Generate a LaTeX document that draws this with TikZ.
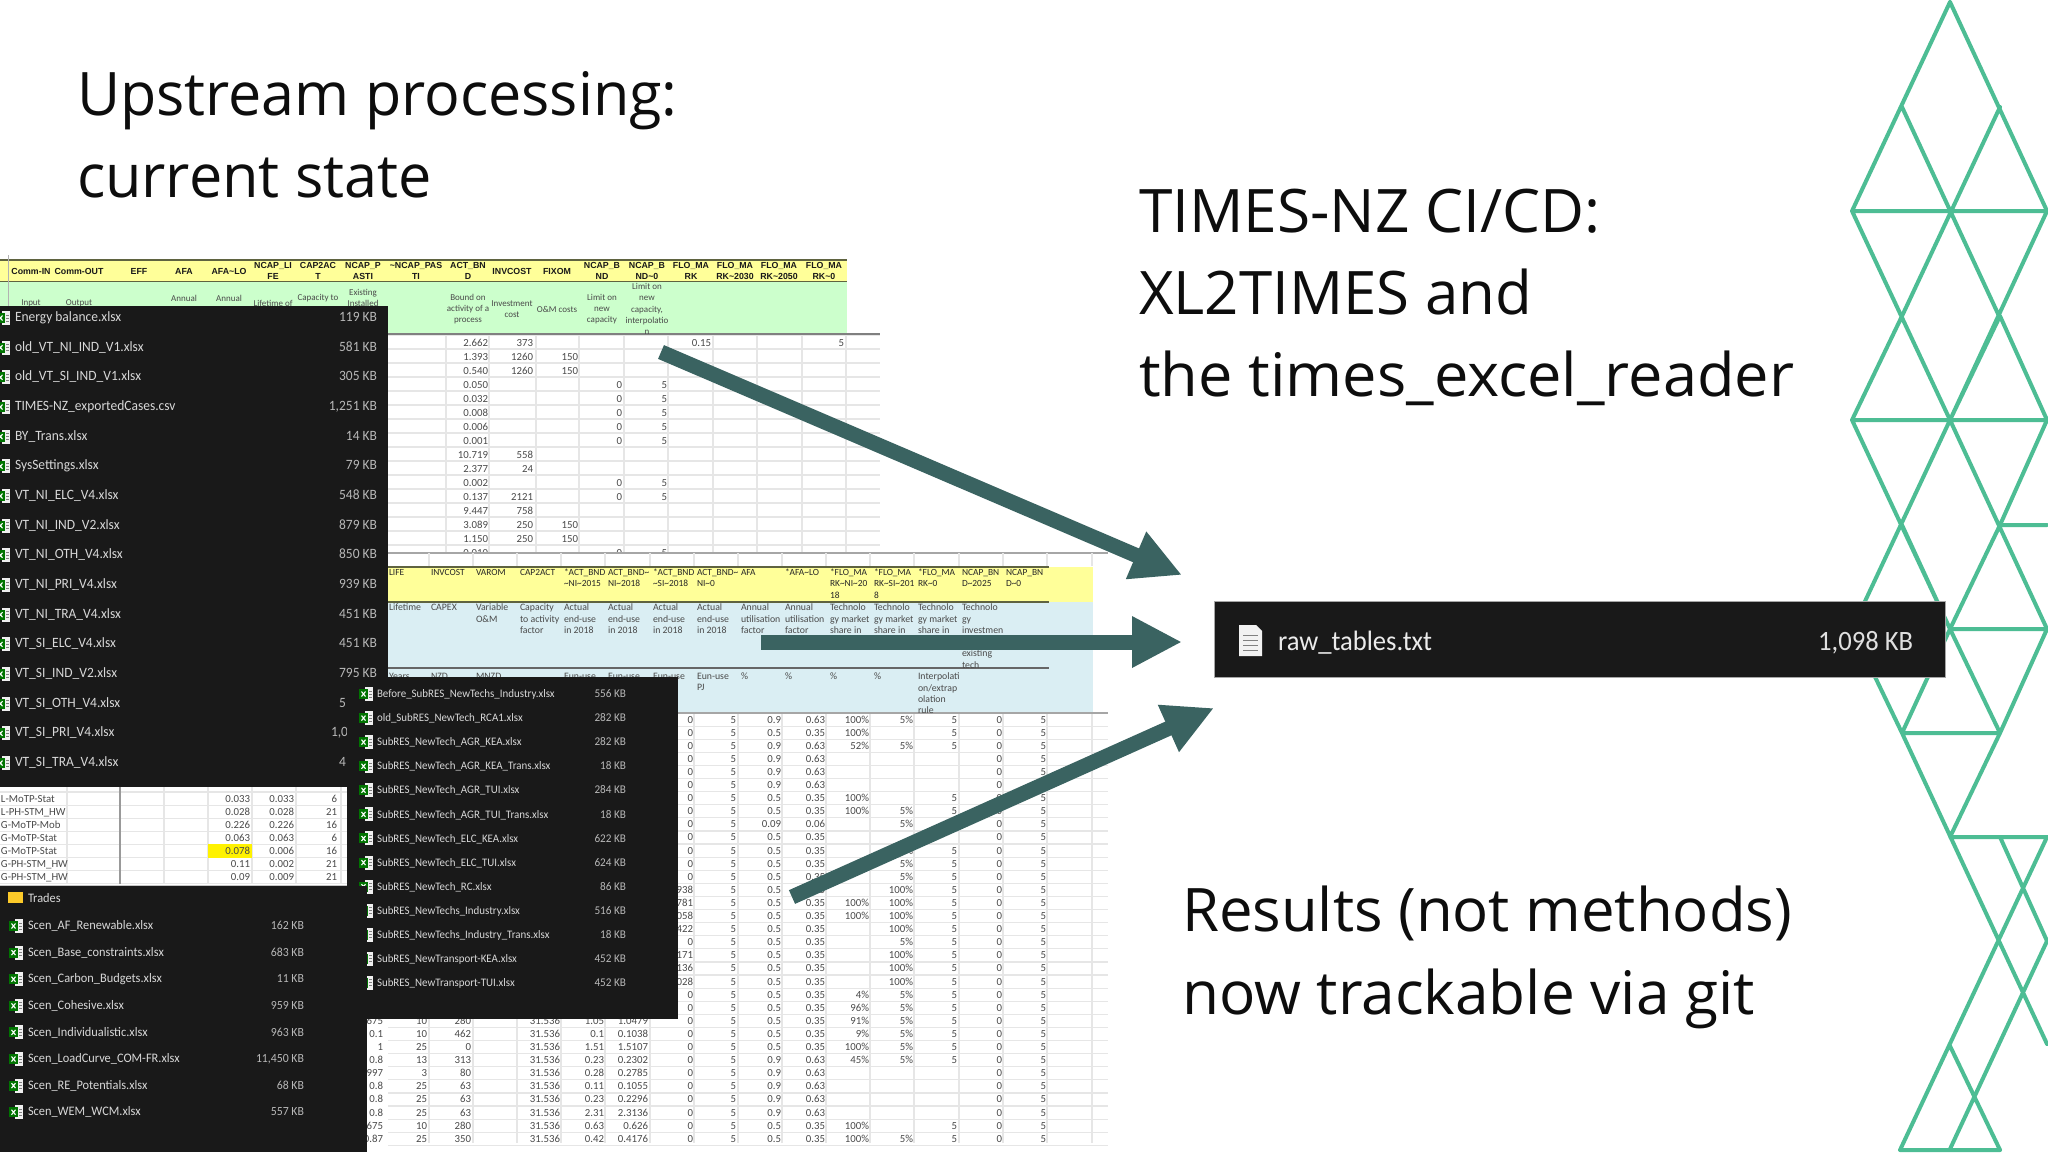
\documentclass[tikz,border=0pt]{standalone}
\usepackage{fontspec}
\usepackage{graphicx}
\usetikzlibrary{arrows.meta}
\setmainfont{Open Sans}
\newfontfamily\panelf[FakeStretch=0.95]{Carlito}
\newfontfamily\cellf{Carlito}
\newfontfamily\headf{Liberation Sans}
\definecolor{lat}{HTML}{4DBD94}
\definecolor{arr}{HTML}{3A6361}
\definecolor{panel}{HTML}{191919}
\definecolor{ptext}{HTML}{D8D8D8}
\definecolor{yel1}{HTML}{FFFF99}
\definecolor{grn1}{HTML}{CCFFCC}
\definecolor{blu1}{HTML}{DAEEF3}
\definecolor{grid}{HTML}{E6E6E6}
\definecolor{edge}{HTML}{5F6340}
\definecolor{cellc}{HTML}{4A4A4A}
\newcount\nodeno
\newcommand{\T}[4][]{\global\advance\nodeno by 1 \node[#1] (n\the\nodeno) at (#2,#3) {#4};}
\tikzset{
 base/.style={inner sep=0pt,outer sep=0pt},
 title/.style={base,anchor=base west,font=\fontsize{30}{36}\selectfont,text=black!95},
 pname/.style={base,anchor=west,text=ptext,text height=5pt,text depth=1.4pt},
 psize/.style={base,anchor=east,text=ptext!85!black,text height=5pt,text depth=1.4pt},
 data/.style={base,anchor=east,text=cellc,font=\cellf\fontsize{5.4}{6}\selectfont,text height=3.6pt,text depth=0.6pt},
 dataL/.style={base,anchor=west,text=cellc,font=\cellf\fontsize{5.4}{6}\selectfont,text height=3.6pt,text depth=0.6pt},
 hd/.style={base,anchor=center,align=center,text=black!90,font=\headf\bfseries\fontsize{4.4}{5.2}\selectfont},
 sub/.style={base,anchor=center,align=center,text=cellc,font=\cellf\fontsize{4.5}{5.6}\selectfont},
 hl/.style={base,anchor=north west,align=left,text=black!85,font=\cellf\fontsize{4.7}{5.65}\selectfont},
 bl/.style={base,anchor=north west,align=left,text=cellc,font=\cellf\fontsize{4.9}{5.65}\selectfont},
 arrowline/.style={draw=arr,line width=7.5pt,-{Triangle[length=25pt,width=24pt]}},
}
\newcommand{\xl}[2]{%
 \fill[white!88!gray] (#1-1,#2-7) rectangle (#1+7,#2+7);
 \foreach \q in {-3,0,3}{\draw[gray,line width=.5pt] (#1+3,#2+\q) -- (#1+6,#2+\q);}
 \fill[green!45!black] (#1-7,#2-5) rectangle (#1+2,#2+5);
 \draw[white,line width=.55pt] (#1-4.5,#2-2.5) -- (#1-.5,#2+2.5) (#1-.5,#2-2.5) -- (#1-4.5,#2+2.5);}
\newcommand{\colB}[2]{\foreach \r/\v in {#2}{\pgfmathsetmacro{\yy}{720+13.1*(\r-1)}\T[data]{#1}{\yy}{\v}}}
\newcommand{\colA}[2]{\foreach \r/\v in {#2}{\pgfmathsetmacro{\yy}{343+14*(\r-1)}\T[data]{#1}{\yy}{\v}}}
\begin{document}
\begin{tikzpicture}[x=0.5pt,y=-0.5pt]
\useasboundingbox (0,0) rectangle (2048,1152);
\fill[white] (0,0) rectangle (2048,1152);
% ---------- lattice
\begin{scope}
\clip (0,0) rectangle (2048,1152);
\draw[lat,line width=2pt,line join=round,line cap=round]
 (1950,2)--(1852,211)--(1950,420)  (1950,2)--(2047,211)--(1950,420)
 (1902,107)--(1999,316) (2000,107)--(1902,316)
 (1852,211)--(2047,211)
 (1902,316)--(1852,420)--(1950,629)  (2000,316)--(1950,420)
 (2000,316)--(2047,420)
 (1852,420)--(2047,420)
 (1950,420)--(2047,629)--(2000,733)  (1950,420)--(1852,629)--(1902,733)
 (1902,525)--(1950,629)--(1902,733)
 (2000,525)--(1950,629)--(2000,733)
 (2047,420)--(2000,525)--(2047,525)
 (1950,629)--(2047,629)
 (1902,733)--(2000,733)
 (1902,733)--(2047,1044)
 (2000,733)--(1950,837)--(2047,837)
 (2000,837)--(2047,941)--(1950,1149)
 (2047,837)--(1900,1150)
 (1950,1046)--(2000,1150)
 (1900,1150)--(2000,1150);
\end{scope}
% ---------- sheet 1
\begin{scope}
\clip (0,255) rectangle (885,553);
\foreach \k in {0,...,16}{\draw[grid,line width=.6pt] (388,{335+14*\k}) -- (880,{335+14*\k});}
\foreach \x in {446,489,536,579,624,668,713,757,802,846}{\draw[grid,line width=.6pt] (\x,335) -- (\x,553);}
\fill[yel1] (0,260) rectangle (847,281);
\fill[grn1] (0,282) rectangle (847,334);
\draw[edge,line width=.6pt] (0,260)--(847,260) (0,281.5)--(847,281.5);
\draw[gray,line width=.7pt] (0,334)--(880,334);
\draw[gray!60,line width=.5pt] (8,255)--(8,334);
\foreach \x/\s in {31/Comm-IN,79/Comm-OUT,139/EFF,184/AFA,229/AFA\textasciitilde LO,273/{NCAP\_LI\\FE},318/{CAP2AC\\T},363/{NCAP\_P\\ASTI},416/{\textasciitilde NCAP\_PAS\\TI},468/{ACT\_BN\\D},512/{INVCOST},557/{FIXOM},602/{NCAP\_B\\ND},647/{NCAP\_B\\ND\textasciitilde 0},691/{FLO\_MA\\RK},735/{FLO\_MA\\RK\textasciitilde 2030},779/{FLO\_MA\\RK\textasciitilde 2050},824/{FLO\_MA\\RK\textasciitilde 0}}
 {\T[hd]{\x}{271}{\s}}
\T[sub]{31}{303}{Input}
\T[sub]{79}{303}{Output}
\T[sub]{184}{298}{Annual}
\T[sub]{229}{298}{Annual}
\T[sub]{273}{303}{Lifetime of}
\T[sub]{318}{298}{Capacity to}
\T[sub]{363}{298}{Existing\\Installed}
\T[sub]{468}{309}{Bound on\\activity of a\\process}
\T[sub]{512}{309}{Investment\\cost}
\T[sub]{557}{309}{O\&M costs}
\T[sub]{602}{309}{Limit on\\new\\capacity}
\T[sub]{647}{309}{Limit on\\new\\capacity,\\interpolatio\\n}
\colA{488}{1/2.662,2/1.393,3/0.540,4/0.050,5/0.032,6/0.008,7/0.006,8/0.001,9/10.719,10/2.377,11/0.002,12/0.137,13/9.447,14/3.089,15/1.150,16/0.010}
\colA{533}{1/373,2/1260,3/1260,9/558,10/24,12/2121,13/758,14/250,15/250}
\colA{578}{2/150,3/150,14/150,15/150}
\colA{622}{4/0,5/0,6/0,7/0,8/0,11/0,12/0,16/0}
\colA{667}{4/5,5/5,6/5,7/5,8/5,11/5,12/5,16/5}
\colA{711}{1/0.15}
\colA{844}{1/5}
\end{scope}
\draw[gray!70,line width=.6pt] (388,553)--(1108,553);
\foreach \x in {429,473,517,561,605,650,694,738,782,826,870,914,959,1003,1047,1092}{\draw[grid,line width=.6pt] (\x,553) -- (\x,566);}
% ---------- sheet 2
\foreach \k in {0,...,33}{\draw[grid,line width=.6pt] (388,{713+13.1*\k}) -- (1108,{713+13.1*\k});}
\foreach \x in {429,473,517,561,605,650,694,738,782,826,870,914,959,1003,1047,1092}{\draw[grid,line width=.6pt] (\x,713) -- (\x,1143);}
\fill[yel1] (388,567) rectangle (1093,602);
\fill[blu1] (388,602) rectangle (1093,713);
\draw[edge,line width=.7pt] (388,567)--(1049,567) (388,602)--(1049,602);
\draw[gray!80!black,line width=.8pt] (388,668)--(1049,668);
\draw[gray!70,line width=.6pt] (388,713)--(1108,713);
\foreach \x/\s in {389/LIFE,431/INVCOST,476/VAROM,520/CAP2ACT,564/{*ACT\_BND\\\textasciitilde NI\textasciitilde 2015},608/{ACT\_BND\textasciitilde\\NI\textasciitilde 2018},653/{*ACT\_BND\\\textasciitilde SI\textasciitilde 2018},697/{ACT\_BND\textasciitilde\\NI\textasciitilde 0},741/AFA,785/{*AFA\textasciitilde LO},830/{*FLO\_MA\\RK\textasciitilde NI\textasciitilde 20\\18},874/{*FLO\_MA\\RK\textasciitilde SI\textasciitilde 201\\8},918/{*FLO\_MA\\RK\textasciitilde 0},962/{NCAP\_BN\\D\textasciitilde 2025},1006/{NCAP\_BN\\D\textasciitilde 0}}
 {\T[hl]{\x}{569}{\s}}
\foreach \x/\s in {389/Lifetime,431/CAPEX,476/{Variable\\O\&M},520/{Capacity\\to activity\\factor},564/{Actual\\end-use\\in 2018},608/{Actual\\end-use\\in 2018},653/{Actual\\end-use\\in 2018},697/{Actual\\end-use\\in 2018},741/{Annual\\utilisation\\factor},785/{Annual\\utilisation\\factor},830/{Technolo\\gy market\\share in},874/{Technolo\\gy market\\share in},918/{Technolo\\gy market\\share in},962/{Technolo\\gy\\investmen}}
 {\T[bl]{\x}{604}{\s}}
\T[bl]{962}{650}{existing\\tech}
\foreach \x/\s in {389/Years,431/NZD/kW,476/MNZD/PJ,564/{Eun-use\\PJ},608/{Eun-use\\PJ},653/{Eun-use\\PJ},697/{Eun-use\\PJ},741/\%,785/\%,830/\%,874/\%,918/{Interpolati\\on/extrap\\olation\\rule}}
 {\T[bl]{\x}{673}{\s}}
\colB{693}{1/0,2/0,3/0,4/0,5/0,6/0,7/0,8/0,9/0,10/0,11/0,12/0,13/0,14/938,15/781,16/058,17/422,18/0,19/171,20/136,21/028,22/0,23/0,24/0,25/0,26/0,27/0,28/0,29/0,30/0,31/0,32/0,33/0}
\foreach \r in {1,...,33}{\pgfmathsetmacro{\yy}{720+13.1*(\r-1)}\T[data]{736}{\yy}{5}\T[data]{1002}{\yy}{0}\T[data]{1046}{\yy}{5}}
\colB{781}{1/0.9,2/0.5,3/0.9,4/0.9,5/0.9,6/0.9,7/0.5,8/0.5,9/0.09,10/0.5,11/0.5,12/0.5,13/0.5,14/0.5,15/0.5,16/0.5,17/0.5,18/0.5,19/0.5,20/0.5,21/0.5,22/0.5,23/0.5,24/0.5,25/0.5,26/0.5,27/0.9,28/0.9,29/0.9,30/0.9,31/0.9,32/0.5,33/0.5}
\colB{825}{1/0.63,2/0.35,3/0.63,4/0.63,5/0.63,6/0.63,7/0.35,8/0.35,9/0.06,10/0.35,11/0.35,12/0.35,13/0.35,14/0.35,15/0.35,16/0.35,17/0.35,18/0.35,19/0.35,20/0.35,21/0.35,22/0.35,23/0.35,24/0.35,25/0.35,26/0.35,27/0.63,28/0.63,29/0.63,30/0.63,31/0.63,32/0.35,33/0.35}
\colB{869}{1/100\%,2/100\%,3/52\%,7/100\%,8/100\%,15/100\%,16/100\%,22/4\%,23/96\%,24/91\%,25/9\%,26/100\%,27/45\%,32/100\%,33/100\%}
\colB{913}{1/5\%,3/5\%,8/5\%,9/5\%,11/5\%,12/5\%,13/5\%,14/100\%,15/100\%,16/100\%,17/100\%,18/5\%,19/100\%,20/100\%,21/100\%,22/5\%,23/5\%,24/5\%,25/5\%,26/5\%,27/5\%,33/5\%}
\colB{957}{1/5,2/5,3/5,7/5,8/5,11/5,12/5,13/5,14/5,15/5,16/5,17/5,18/5,19/5,20/5,21/5,22/5,23/5,24/5,25/5,26/5,27/5,32/5,33/5}
\colB{383}{24/675,25/0.1,26/1,27/0.8,28/997,29/0.8,30/0.8,31/0.8,32/675,33/0.87}
\colB{427}{24/10,25/10,26/25,27/13,28/3,29/25,30/25,31/25,32/10,33/25}
\colB{471}{24/280,25/462,26/0,27/313,28/80,29/63,30/63,31/63,32/280,33/350}
\foreach \r in {24,...,33}{\pgfmathsetmacro{\yy}{720+13.1*(\r-1)}\T[data]{560}{\yy}{31.536}}
\colB{604}{24/1.05,25/0.1,26/1.51,27/0.23,28/0.28,29/0.11,30/0.23,31/2.31,32/0.63,33/0.42}
\colB{648}{24/1.0479,25/0.1038,26/1.5107,27/0.2302,28/0.2785,29/0.1055,30/0.2296,31/2.3136,32/0.626,33/0.4176}
% ---------- sheet 3 (strip under the first panel)
\fill[white] (0,787) rectangle (347,886);
\foreach \k in {0,...,7}{\draw[grid,line width=.6pt] (0,{792+13.1*\k}) -- (347,{792+13.1*\k});}
\foreach \x in {67,164,208,252,296,341}{\draw[grid,line width=.6pt] (\x,787) -- (\x,884);}
\draw[gray!80,line width=.6pt] (120,787) -- (120,884);
\fill[yellow] (208,844) rectangle (252,858);
\foreach \n/\v/\a/\b/\c in {0/{L-MoTP-Stat}/0.033/0.033/6,1/{L-PH-STM\_HW}/0.028/0.028/21,2/{G-MoTP-Mob}/0.226/0.226/16,3/{G-MoTP-Stat}/0.063/0.063/6,4/{G-MoTP-Stat}/0.078/0.006/16,5/{G-PH-STM\_HW}/0.11/0.002/21,6/{G-PH-STM\_HW}/0.09/0.009/21}{
 \pgfmathsetmacro{\yy}{799+13*\n}
 \T[dataL]{1}{\yy}{\v}\T[data]{250}{\yy}{\a}\T[data]{294}{\yy}{\b}\T[data]{337}{\yy}{\c}}
\draw[gray!45,line width=1pt] (0,886) -- (367,886);
% ---------- panel 1
\fill[panel] (0,306) rectangle (388,787);
\foreach \n/\a/\b in {0/{Energy balance.xlsx}/119 KB,1/{old\_VT\_NI\_IND\_V1.xlsx}/581 KB,2/{old\_VT\_SI\_IND\_V1.xlsx}/305 KB,3/{TIMES-NZ\_exportedCases.csv}/{1,251 KB},4/{BY\_Trans.xlsx}/14 KB,5/{SysSettings.xlsx}/79 KB,6/{VT\_NI\_ELC\_V4.xlsx}/548 KB,7/{VT\_NI\_IND\_V2.xlsx}/879 KB,8/{VT\_NI\_OTH\_V4.xlsx}/850 KB,9/{VT\_NI\_PRI\_V4.xlsx}/939 KB,10/{VT\_NI\_TRA\_V4.xlsx}/451 KB,11/{VT\_SI\_ELC\_V4.xlsx}/451 KB,12/{VT\_SI\_IND\_V2.xlsx}/795 KB}{
 \pgfmathsetmacro{\yy}{318+29.67*\n}
 \xl{3}{\yy}
 \T[pname,font=\panelf\fontsize{7.1}{8}\selectfont]{15}{\yy}{\a}
 \T[psize,font=\panelf\fontsize{7.1}{8}\selectfont]{377}{\yy}{\b}}
\foreach \n/\a/\b/\sx in {13/{VT\_SI\_OTH\_V4.xlsx}/5/339,14/{VT\_SI\_PRI\_V4.xlsx}/{1,0}/331,15/{VT\_SI\_TRA\_V4.xlsx}/4/339}{
 \pgfmathsetmacro{\yy}{318+29.67*\n}
 \xl{3}{\yy}
 \T[pname,font=\panelf\fontsize{7.1}{8}\selectfont]{15}{\yy}{\a}
 \T[pname,font=\panelf\fontsize{7.1}{8}\selectfont,text=ptext!85!black]{\sx}{\yy}{\b}}
% ---------- panel 2
\fill[panel] (347,677) rectangle (678,1019);
\foreach \n/\a/\b in {0/{Before\_SubRES\_NewTechs\_Industry.xlsx}/556 KB,1/{old\_SubRES\_NewTech\_RCA1.xlsx}/282 KB,2/{SubRES\_NewTech\_AGR\_KEA.xlsx}/282 KB,3/{SubRES\_NewTech\_AGR\_KEA\_Trans.xlsx}/18 KB,4/{SubRES\_NewTech\_AGR\_TUI.xlsx}/284 KB,5/{SubRES\_NewTech\_AGR\_TUI\_Trans.xlsx}/18 KB,6/{SubRES\_NewTech\_ELC\_KEA.xlsx}/622 KB,7/{SubRES\_NewTech\_ELC\_TUI.xlsx}/624 KB,8/{SubRES\_NewTech\_RC.xlsx}/86 KB,9/{SubRES\_NewTechs\_Industry.xlsx}/516 KB,10/{SubRES\_NewTechs\_Industry\_Trans.xlsx}/18 KB,11/{SubRES\_NewTransport-KEA.xlsx}/452 KB,12/{SubRES\_NewTransport-TUI.xlsx}/452 KB}{
 \pgfmathsetmacro{\yy}{694+24.08*\n}
 \xl{366}{\yy}
 \T[pname,font=\panelf\fontsize{5.75}{7}\selectfont]{377}{\yy}{\a}
 \T[psize,font=\panelf\fontsize{5.9}{7}\selectfont]{626}{\yy}{\b}}
% ---------- panel 3
\fill[panel] (0,886) rectangle (367,1152);
\fill[yellow!55!orange!85!white] (8,892) rectangle (23,903);
\T[pname,font=\panelf\fontsize{6.5}{7}\selectfont]{28}{899}{Trades}
\foreach \n/\a/\b in {0/{Scen\_AF\_Renewable.xlsx}/162 KB,1/{Scen\_Base\_constraints.xlsx}/683 KB,2/{Scen\_Carbon\_Budgets.xlsx}/11 KB,3/{Scen\_Cohesive.xlsx}/959 KB,4/{Scen\_Individualistic.xlsx}/963 KB,5/{Scen\_LoadCurve\_COM-FR.xlsx}/{11,450 KB},6/{Scen\_RE\_Potentials.xlsx}/68 KB,7/{Scen\_WEM\_WCM.xlsx}/557 KB}{
 \pgfmathsetmacro{\yy}{926+26.6*\n}
 \xl{16}{\yy}
 \T[pname,font=\panelf\fontsize{6.5}{7}\selectfont]{28}{\yy}{\a}
 \T[psize,font=\panelf\fontsize{6.2}{7}\selectfont]{304}{\yy}{\b}}
% ---------- raw tables panel
\node[base,fill=panel,draw=gray!70,line width=.4pt,minimum width=731*0.5pt,minimum height=76*0.5pt,anchor=north west] (raw) at (1214,601) {};
\fill[white!90!gray] (1239,625) -- (1256,625) -- (1262,631) -- (1262,656) -- (1239,656) -- cycle;
\foreach \q in {635,640,645,650}{\draw[gray,line width=.5pt] (1243,\q) -- (1258,\q);}
\node[base,anchor=west,text=white!92!black,font=\panelf\fontsize{14}{16}\selectfont] (rawname) at (1278,643) {raw\_tables.txt};
\node[base,anchor=east,text=white!88!black,font=\panelf\fontsize{14}{16}\selectfont] (rawsize) at (1913,643) {1,098 KB};
% ---------- arrows
\coordinate (a1s) at (661,352);
\coordinate (a1e) at (1182,575);
\coordinate (a2s) at (761,642);
\coordinate (a2e) at (1182,642);
\coordinate (a3s) at (792,897);
\coordinate (a3e) at (1214,708);
\draw[arrowline] (a1s) -- (a1e);
\draw[arrowline] (a2s) -- (a2e);
\draw[arrowline] (a3s) -- (a3e);
% ---------- titles
\node[title] (t1) at (77,115) {\scalebox{.987}[1]{Upstream processing:}};
\node[title] (t2) at (77,197) {\scalebox{.99}[1]{current state}};
\node[title] (t3) at (1139,232) {\scalebox{1.006}[1]{TIMES-NZ CI/CD:}};
\node[title] (t4) at (1139,314) {XL2TIMES and};
\node[title] (t5) at (1139,396) {\scalebox{1.0225}[1]{the times\_excel\_reader}};
\node[title] (t6) at (1182,931) {\scalebox{.998}[1]{Results (not methods)}};
\node[title] (t7) at (1182,1014) {\scalebox{1.005}[1]{now trackable via git}};
\end{tikzpicture}
\end{document}
